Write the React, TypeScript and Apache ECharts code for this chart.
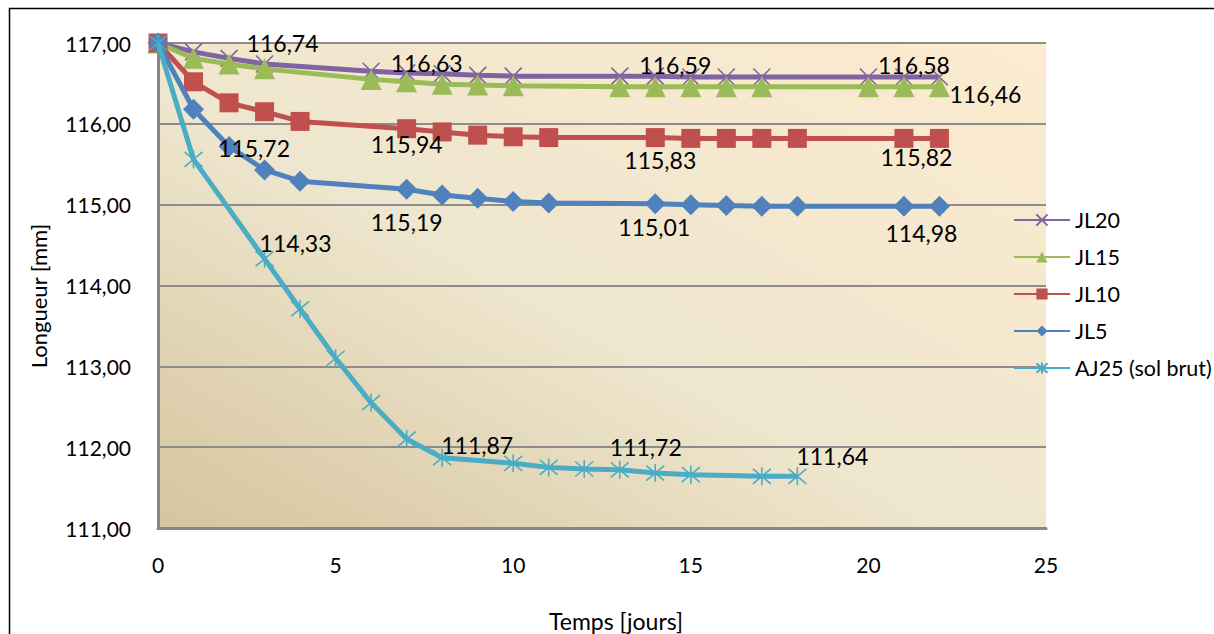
import React, { useEffect, useRef } from "react";
import * as echarts from "echarts";

// ---- data (days, lengths in mm) ----
const seriesNames = ["JL20", "JL15", "JL10", "JL5", "AJ25 (sol brut)"];

const jl20Days = [0, 1, 2, 3, 6, 7, 8, 9, 10, 13, 14, 15, 16, 17, 20, 21, 22];
const jl20Values = [117.0, 116.89, 116.81, 116.74, 116.65, 116.63, 116.62, 116.6, 116.59, 116.59, 116.59, 116.58, 116.58, 116.58, 116.58, 116.58, 116.58];

const jl15Days = [0, 1, 2, 3, 6, 7, 8, 9, 10, 13, 14, 15, 16, 17, 20, 21, 22];
const jl15Values = [117.0, 116.81, 116.74, 116.68, 116.55, 116.52, 116.49, 116.48, 116.47, 116.46, 116.46, 116.46, 116.46, 116.46, 116.46, 116.46, 116.46];

const jl10Days = [0, 1, 2, 3, 4, 7, 8, 9, 10, 11, 14, 15, 16, 17, 18, 21, 22];
const jl10Values = [117.0, 116.52, 116.26, 116.15, 116.03, 115.94, 115.9, 115.86, 115.84, 115.83, 115.83, 115.82, 115.82, 115.82, 115.82, 115.82, 115.82];

const jl5Days = [0, 1, 2, 3, 4, 7, 8, 9, 10, 11, 14, 15, 16, 17, 18, 21, 22];
const jl5Values = [117.0, 116.18, 115.72, 115.43, 115.29, 115.19, 115.12, 115.08, 115.04, 115.02, 115.01, 115.0, 114.99, 114.98, 114.98, 114.98, 114.98];

const aj25Days = [0, 1, 3, 4, 5, 6, 7, 8, 10, 11, 12, 13, 14, 15, 17, 18];
const aj25Values = [117.0, 115.56, 114.33, 113.71, 113.1, 112.55, 112.1, 111.87, 111.8, 111.75, 111.73, 111.72, 111.68, 111.66, 111.64, 111.64];

// days whose value is written on the chart
const jl20LabelDays = [3, 7, 14, 21];
const jl15LabelDays = [22];
const jl10LabelDays = [7, 14, 22];
const jl5LabelDays = [2, 7, 14, 22];
const aj25LabelDays = [3, 8, 13, 18];

const xTicks = [0, 5, 10, 15, 20, 25];
const yTicks = [111, 112, 113, 114, 115, 116, 117];

// ---- styling (label offsets in px, per labelled day) ----
const labelOffsets: Record<string, Record<number, number[]>> = {
  JL20: { 3: [18, -21], 7: [20, -10], 14: [20, -11], 21: [10, -12] },
  JL15: { 22: [46, 7] },
  JL10: { 7: [0, 15], 14: [5, 22], 22: [-23, 19] },
  JL5: { 2: [25, 2], 7: [0, 33], 14: [-1, 23], 22: [-18, 27] },
  "AJ25 (sol brut)": { 3: [31, -16], 8: [35, -13], 13: [26, -23], 18: [35, -20] },
};

const colors = ["#8064A2", "#9BBB59", "#C0504D", "#4F81BD", "#4BACC6"];
const FONT = "Lato, 'Open Sans', sans-serif";

const fmt = (v: number) => v.toFixed(2).replace(".", ",");

const crossPath = "path://M0,0L10,10M10,0L0,10";
const starPath = "path://M0,0L10,10M10,0L0,10M5,-1L5,11";

function buildData(name: string, days: number[], values: number[], labelDays: number[]) {
  return days.map((d, i) => {
    if (labelDays.includes(d)) {
      const off = labelOffsets[name][d] || [0, 0];
      return {
        value: [d, values[i]],
        label: {
          show: true,
          position: "inside",
          offset: off,
          formatter: (p: any) => fmt(p.value[1]),
          color: "#000",
          fontFamily: FONT,
          fontSize: 23,
          align: "center",
          verticalAlign: "middle",
          textBorderWidth: 0,
        },
      };
    }
    return { value: [d, values[i]] };
  });
}

export default function App() {
  const ref = useRef<HTMLDivElement>(null);
  useEffect(() => {
    document.body.style.margin = "0";
    const chart = echarts.init(ref.current!, undefined, { renderer: "svg" });

    const seriesDefs = [
      { name: seriesNames[0], days: jl20Days, values: jl20Values, labels: jl20LabelDays, symbol: crossPath, size: 17, border: 1.6 },
      { name: seriesNames[1], days: jl15Days, values: jl15Values, labels: jl15LabelDays, symbol: "triangle", size: 21, border: 0 },
      { name: seriesNames[2], days: jl10Days, values: jl10Values, labels: jl10LabelDays, symbol: "rect", size: 19, border: 0 },
      { name: seriesNames[3], days: jl5Days, values: jl5Values, labels: jl5LabelDays, symbol: "diamond", size: 21, border: 0 },
      { name: seriesNames[4], days: aj25Days, values: aj25Values, labels: aj25LabelDays, symbol: starPath, size: 18, border: 1.6 },
    ];

    const series = seriesDefs.map((s, i) => ({
      type: "line",
      name: s.name,
      data: buildData(s.name, s.days, s.values, s.labels),
      symbol: s.symbol,
      symbolSize: s.size,
      showAllSymbol: true,
      clip: false,
      lineStyle: { color: colors[i], width: 5 },
      itemStyle: {
        color: colors[i],
        borderColor: colors[i],
        borderWidth: s.border,
        opacity: 1,
      },
      label: { show: false },
      emphasis: { disabled: true },
      z: 2 + i,
    }));

    chart.setOption({
      animation: false,
      backgroundColor: "#ffffff",
      textStyle: { fontFamily: FONT },
      grid: {
        left: 158,
        top: 43,
        width: 888,
        height: 485,
        show: true,
        borderWidth: 0,
        backgroundColor: new echarts.graphic.LinearGradient(0, 1, 1, 0, [
          { offset: 0, color: "#D6C59E" },
          { offset: 0.45, color: "#EEE6CE" },
          { offset: 1, color: "#FCEBCF" },
        ]),
      },
      legend: {
        orient: "vertical",
        left: 1013,
        top: 209,
        padding: 0,
        itemWidth: 56,
        itemHeight: 14,
        itemGap: 15,
        data: seriesNames,
        textStyle: { fontFamily: FONT, fontSize: 21.5, color: "#000" },
      },
      xAxis: {
        type: "value",
        min: xTicks[0],
        max: xTicks[xTicks.length - 1],
        interval: 5,
        axisLine: { show: true, lineStyle: { color: "#868686", width: 3 } },
        axisTick: { show: false },
        splitLine: { show: false },
        axisLabel: {
          margin: 26,
          fontFamily: FONT,
          fontSize: 21,
          color: "#000",
          formatter: (v: number) => String(v),
        },
      },
      yAxis: {
        type: "value",
        min: yTicks[0],
        max: yTicks[yTicks.length - 1],
        interval: 1,
        axisLine: { show: true, lineStyle: { color: "#868686", width: 3 } },
        axisTick: { show: false },
        splitLine: { show: true, lineStyle: { color: "#8C8C8C", width: 2 } },
        axisLabel: {
          margin: 27,
          fontFamily: FONT,
          fontSize: 21,
          color: "#000",
          formatter: (v: number) => fmt(v),
        },
      },
      graphic: [
        {
          type: "rect",
          shape: { x: 9.5, y: 8.5, width: 1220, height: 640 },
          style: { fill: "none", stroke: "#000", lineWidth: 1.5 },
          silent: true,
          z: 100,
        },
        {
          type: "text",
          x: 616,
          y: 621,
          style: {
            text: "Temps [jours]",
            fontFamily: FONT,
            fontSize: 23,
            fill: "#000",
            textAlign: "center",
            textVerticalAlign: "middle",
          },
        },
        {
          type: "text",
          x: 38,
          y: 296,
          rotation: Math.PI / 2,
          style: {
            text: "Longueur [mm]",
            fontFamily: FONT,
            fontSize: 22,
            fill: "#000",
            textAlign: "center",
            textVerticalAlign: "middle",
          },
        },
      ],
      series,
    });

    return () => chart.dispose();
  }, []);
  return <div ref={ref} style={{ width: 1214, height: 634 }} />;
}
